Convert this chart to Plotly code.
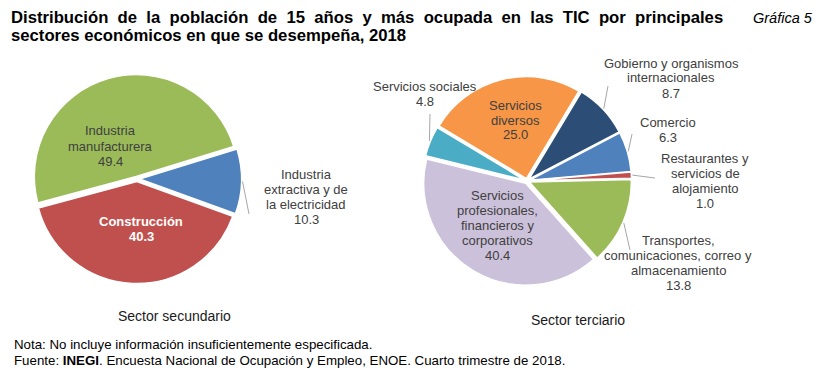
import math
import plotly.graph_objects as go

# ---------------- data ----------------
sec_labels = ["Industria manufacturera", "Industria extractiva y de la electricidad", "Construcción"]
sec_values = [49.4, 10.3, 40.3]
ter_labels = ["Servicios diversos", "Gobierno y organismos internacionales", "Comercio",
              "Restaurantes y servicios de alojamiento",
              "Transportes, comunicaciones, correo y almacenamiento",
              "Servicios profesionales, financieros y corporativos", "Servicios sociales"]
ter_values = [25.0, 8.7, 6.3, 1.0, 13.8, 40.4, 4.8]

# ---------------- style / layout ----------------
W, H = 830, 377
FONT = "Liberation Sans, Arial, sans-serif"
LBL = "#404040"
sec_colors = ["#9BBB59", "#4F81BD", "#C0504D"]
ter_colors = ["#F79646", "#2C4D75", "#4F81BD", "#C0504D", "#9BBB59", "#CCC1DA", "#4BACC6"]
PULL = 0.025
R = 102
SEC_C = (137, 179)
TER_C = (527, 181)
SEC_ROT = -105
TER_ROT = -59

# wrapped label lines, label block centre (px), text style, leader-line outer end (px)
sec_wrap = [["Industria", "manufacturera"], ["Industria", "extractiva y de", "la electricidad"], ["Construcción"]]
sec_pos = [(110, 146), (306, 197), (141, 229)]
sec_lead = [None, (249, 214), None]
sec_style = [dict(color=LBL), dict(color=LBL), dict(color="white", weight="bold")]

ter_wrap = [["Servicios", "diversos"], ["Gobierno y organismos", "internacionales"], ["Comercio"],
            ["Restaurantes y", "servicios de", "alojamiento"],
            ["Transportes,", "comunicaciones, correo y", "almacenamiento"],
            ["Servicios", "profesionales,", "financieros y", "corporativos"], ["Servicios sociales"]]
ter_pos = [(515, 120), (671, 78), (668, 130), (705, 181), (678, 263), (497, 225), (425, 94)]
ter_lead = [None, (608, 86), (632, 134), (655, 178), (630, 250), None, (430, 114)]
ter_style = [dict(color=LBL)] * 7

LINE_H = 15


def px(x):
    return x / W


def py(y):
    return 1 - y / H


def domain(c):
    half = R * (1 + PULL)
    return dict(x=[px(c[0] - half), px(c[0] + half)], y=[py(c[1] + half), py(c[1] - half)])


fig = go.Figure()
for vals, labs, cols, c, rot in [(sec_values, sec_labels, sec_colors, SEC_C, SEC_ROT),
                                 (ter_values, ter_labels, ter_colors, TER_C, TER_ROT)]:
    fig.add_trace(go.Pie(values=vals, labels=labs,
                         marker=dict(colors=cols, line=dict(color="white", width=1.5)),
                         sort=False, direction="clockwise", rotation=rot, pull=[PULL] * len(vals),
                         textinfo="none", hoverinfo="label+value", domain=domain(c), showlegend=False))

annotations = []
shapes = []


def add_lines(lines, cx, cy, style, size=13):
    n = len(lines)
    for i, t in enumerate(lines):
        y = cy + (i - (n - 1) / 2) * LINE_H
        annotations.append(dict(x=px(cx), y=py(y), xref="paper", yref="paper", text=t, showarrow=False,
                                xanchor="center", yanchor="middle",
                                font=dict(family=FONT, size=size, color=style.get("color", LBL),
                                          weight=style.get("weight", "normal"))))


def label_pie(vals, wraps, poss, leads, styles, c, rot):
    total = sum(vals)
    cum = 0
    for v, wr, pos, lead, st in zip(vals, wraps, poss, leads, styles):
        mid = rot + 360 * (cum + v / 2) / total  # compass degrees, clockwise
        cum += v
        add_lines(wr + [f"{v:.1f}"], pos[0], pos[1], st)
        if lead:
            th = math.radians(90 - mid)
            rr = R * (1 + PULL) + 1
            x0 = c[0] + rr * math.cos(th)
            y0 = c[1] - rr * math.sin(th)
            shapes.append(dict(type="line", xref="paper", yref="paper", x0=px(x0), y0=py(y0),
                               x1=px(lead[0]), y1=py(lead[1]), line=dict(color="#A6A6A6", width=1)))


label_pie(sec_values, sec_wrap, sec_pos, sec_lead, sec_style, SEC_C, SEC_ROT)
label_pie(ter_values, ter_wrap, ter_pos, ter_lead, ter_style, TER_C, TER_ROT)

# titles (first line is justified in the original: widen its word gaps)
title1 = "Distribución de la población de 15 años y más ocupada en las TIC por principales".replace(" ", " \u00a0")
for t, y in [(title1, 18), ("sectores económicos en que se desempeña, 2018", 36)]:
    annotations.append(dict(x=px(9), y=py(y), xref="paper", yref="paper", text=t, showarrow=False,
                            xanchor="left", yanchor="middle",
                            font=dict(family=FONT, size=16.7, color="black", weight="bold")))
annotations.append(dict(x=px(815), y=py(18), xref="paper", yref="paper", text="Gráfica 5", showarrow=False,
                        xanchor="right", yanchor="middle",
                        font=dict(family=FONT, size=14.5, color="black", style="italic")))
annotations.append(dict(x=px(174), y=py(316), xref="paper", yref="paper", text="Sector secundario",
                        showarrow=False, xanchor="center", yanchor="middle",
                        font=dict(family=FONT, size=14, color="#1A1A1A")))
annotations.append(dict(x=px(578), y=py(320), xref="paper", yref="paper", text="Sector terciario",
                        showarrow=False, xanchor="center", yanchor="middle",
                        font=dict(family=FONT, size=14, color="#1A1A1A")))
for t, y in [("Nota: No incluye información insuficientemente especificada.", 344),
             ("Fuente: <b>INEGI</b>. Encuesta Nacional de Ocupación y Empleo, ENOE. Cuarto trimestre de 2018.", 360)]:
    annotations.append(dict(x=px(12), y=py(y), xref="paper", yref="paper", text=t, showarrow=False,
                            xanchor="left", yanchor="middle",
                            font=dict(family=FONT, size=13.3, color="black")))

fig.update_layout(width=W, height=H, margin=dict(l=0, r=0, t=0, b=0), paper_bgcolor="white",
                  plot_bgcolor="white", annotations=annotations, shapes=shapes)
fig.write_html("out.html", config={"displayModeBar": False},
               post_script="document.body.style.margin='0';document.body.style.overflow='hidden';")
